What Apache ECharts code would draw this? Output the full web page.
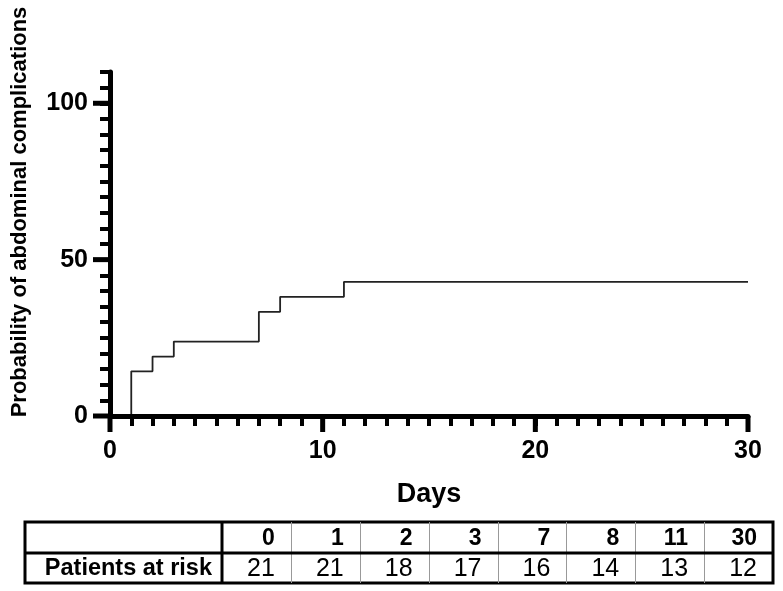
<!DOCTYPE html>
<html>
<head>
<meta charset="utf-8">
<script src="https://cdn.jsdelivr.net/npm/echarts@6/dist/echarts.min.js"></script>
<style>
  html, body { margin: 0; padding: 0; background: #fff; }
  #chart { width: 783px; height: 591px; }
</style>
</head>
<body>
<div id="chart"></div>
<script>
// Kaplan-Meier style cumulative incidence (step points)
const stepDays = [0, 1, 2, 3, 7, 8, 11, 30];
const stepProb = [0, 14.3, 19.0, 23.8, 33.3, 38.1, 42.9, 42.9];

// numbers at risk table
const riskDays = ['0', '1', '2', '3', '7', '8', '11', '30'];
const riskCounts = [21, 21, 18, 17, 16, 14, 13, 12];
const riskLabel = 'Patients at risk';

const yLabels = [0, 50, 100];
const xLabels = [0, 10, 20, 30];

const font = '"Liberation Sans", Arial, sans-serif';
const narrow = '"Liberation Sans Narrow", "Arial Narrow", "Liberation Sans", sans-serif';

const chart = echarts.init(document.getElementById('chart'));

// table layout
const tL = 25, tR = 773, tT = 522, tM = 553, tB = 583, firstCol = 222;
const colW = (tR - firstCol) / riskDays.length;

const tableEls = [];
tableEls.push({
  type: 'rect',
  shape: { x: tL, y: tT, width: tR - tL, height: tB - tT },
  style: { fill: 'none', stroke: '#000', lineWidth: 3 }
});
for (let i = 1; i < riskDays.length; i++) {
  const x = Math.round(firstCol + i * colW) + 0.5;
  tableEls.push({
    type: 'line',
    shape: { x1: x, y1: tT, x2: x, y2: tB },
    style: { stroke: '#999', lineWidth: 1 }
  });
}
tableEls.push({
  type: 'line',
  shape: { x1: tL, y1: tM, x2: tR, y2: tM },
  style: { stroke: '#000', lineWidth: 3 }
});
tableEls.push({
  type: 'line',
  shape: { x1: firstCol, y1: tT, x2: firstCol, y2: tB },
  style: { stroke: '#000', lineWidth: 3 }
});
tableEls.push({
  type: 'text',
  x: firstCol - 10,
  y: (tM + tB) / 2 + 1,
  style: { text: riskLabel, font: 'bold 23.5px ' + font, fill: '#000', align: 'right', verticalAlign: 'middle' }
});
riskDays.forEach((d, i) => {
  const xr = firstCol + (i + 1) * colW - 16;
  tableEls.push({
    type: 'text',
    x: xr,
    y: (tT + tM) / 2 + 1,
    style: { text: d, font: 'bold 23px ' + font, fill: '#000', align: 'right', verticalAlign: 'middle' }
  });
  tableEls.push({
    type: 'text',
    x: xr,
    y: (tM + tB) / 2 + 1,
    style: { text: String(riskCounts[i]), font: '25px ' + narrow, fill: '#000', align: 'right', verticalAlign: 'middle' }
  });
});

const labelStyle = { fontSize: 25, fontWeight: 'bold', color: '#000', fontFamily: font };

// long (major) ticks, drawn through the axis scales
function majorTick(dir) {
  return function (params, api) {
    const p = api.coord([api.value(0), api.value(1)]);
    const shape = dir === 'x'
      ? { x1: p[0], y1: p[1], x2: p[0], y2: p[1] + 16 }
      : { x1: p[0], y1: p[1], x2: p[0] - 17, y2: p[1] };
    return { type: 'line', shape: shape, style: { stroke: '#000', lineWidth: 5 } };
  };
}

const option = {
  backgroundColor: '#fff',
  animation: false,
  grid: { left: 110, right: 35, top: 72, bottom: 175 },
  xAxis: {
    type: 'value',
    min: 0,
    max: 30,
    interval: 1,
    z: 3,
    name: 'Days',
    nameLocation: 'middle',
    nameGap: 65,
    nameTextStyle: { fontSize: 27, fontWeight: 'bold', color: '#000', fontFamily: font },
    axisLine: { show: true, onZero: false, lineStyle: { color: '#000', width: 5 } },
    axisTick: { show: true, length: 10, lineStyle: { color: '#000', width: 4 } },
    axisLabel: Object.assign({ margin: 23, formatter: v => (xLabels.includes(v) ? String(v) : '') }, labelStyle),
    splitLine: { show: false }
  },
  yAxis: {
    type: 'value',
    min: 0,
    max: 110,
    interval: 5,
    z: 3,
    axisLine: { show: true, onZero: false, lineStyle: { color: '#000', width: 5 } },
    axisTick: { show: true, length: 10, lineStyle: { color: '#000', width: 4 } },
    axisLabel: Object.assign({ margin: 22, formatter: v => (yLabels.includes(v) ? String(v) : '') }, labelStyle),
    splitLine: { show: false }
  },
  series: [
    {
      type: 'line',
      step: 'end',
      data: stepDays.map((d, i) => [d, stepProb[i]]),
      symbol: 'none',
      lineStyle: { color: '#222', width: 1.8 },
      z: 2
    },
    {
      type: 'custom',
      clip: false,
      silent: true,
      z: 4,
      renderItem: majorTick('x'),
      data: xLabels.map(v => [v, 0])
    },
    {
      type: 'custom',
      clip: false,
      silent: true,
      z: 4,
      renderItem: majorTick('y'),
      data: yLabels.map(v => [0, v])
    }
  ],
  graphic: [
    {
      type: 'text',
      x: 20,
      y: 212,
      rotation: Math.PI / 2,
      style: {
        text: 'Probability of abdominal complications',
        font: 'bold 22px ' + font,
        fill: '#000',
        align: 'center',
        verticalAlign: 'middle'
      }
    },
    ...tableEls
  ]
};

chart.setOption(option);
</script>
</body>
</html>
